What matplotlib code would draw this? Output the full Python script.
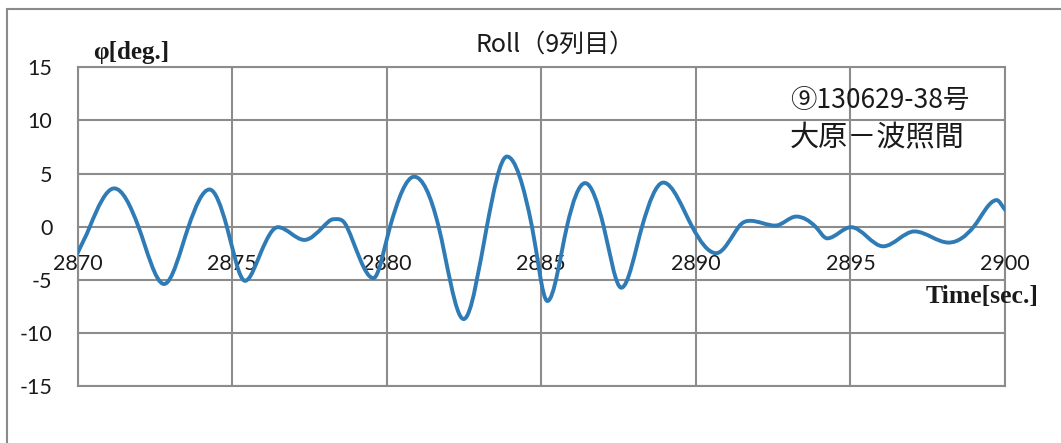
import numpy as np
import matplotlib
matplotlib.use("Agg")
import matplotlib.pyplot as plt
from matplotlib.path import Path
from matplotlib.patches import PathPatch, Rectangle

# roll angle readings (time [s], angle [deg])
t_sec = [2870.00, 2870.40, 2871.19, 2871.97, 2872.80, 2873.59, 2874.27, 2874.83,
         2875.42, 2875.95, 2876.48, 2877.34, 2877.95, 2878.28, 2878.71, 2879.57,
         2880.11, 2880.89, 2881.68, 2882.49, 2883.24, 2883.89, 2884.70, 2885.20,
         2885.83, 2886.42, 2887.02, 2887.59, 2888.26, 2888.95, 2889.88, 2890.66,
         2891.39, 2891.76, 2892.57, 2893.25, 2893.87, 2894.25, 2895.02, 2896.06,
         2897.07, 2898.18, 2898.99, 2899.73, 2900.00]
roll_deg = [-2.5, 0.0, 3.6, 0.0, -5.4, 0.0, 3.5, 0.0,
            -5.1, -2.3, -0.05, -1.25, 0.0, 0.7, 0.0, -4.85,
            0.0, 4.7, 0.0, -8.7, 0.0, 6.6, 0.0, -7.0,
            0.0, 4.1, 0.0, -5.75, 0.0, 4.15, 0.0, -2.5,
            0.0, 0.55, 0.1, 0.95, 0.0, -1.1, -0.05, -1.85,
            -0.45, -1.5, 0.0, 2.5, 1.6]

x_ticks = [2870, 2875, 2880, 2885, 2890, 2895, 2900]
y_ticks = [-15, -10, -5, 0, 5, 10, 15]

title = "Roll（9列目）"
note_lines = ["⑨130629-38号", "大原－波照間"]

GRID = "#8c8c8c"
LINE = "#2f7bb5"
num_font = ["Lato", "DejaVu Sans"]
jp_font = ["Noto Sans CJK JP", "DejaVu Sans"]


def smooth_path(xs, ys, k=1.4):
    # smoothed line: cubic Hermite pieces written as Bezier curves
    x = np.asarray(xs, float)
    y = np.asarray(ys, float)
    m = np.empty_like(y)
    m[1:-1] = k * (y[2:] - y[:-2]) / (x[2:] - x[:-2])
    m[0] = (y[1] - y[0]) / (x[1] - x[0])
    m[-1] = (y[-1] - y[-2]) / (x[-1] - x[-2])
    # zero slope at local extrema
    for i in range(1, len(y) - 1):
        if (y[i] - y[i - 1]) * (y[i + 1] - y[i]) <= 0:
            m[i] = 0.0
    verts = [(x[0], y[0])]
    codes = [Path.MOVETO]
    for i in range(len(x) - 1):
        h = x[i + 1] - x[i]
        verts += [(x[i] + h / 3, y[i] + m[i] * h / 3),
                  (x[i + 1] - h / 3, y[i + 1] - m[i + 1] * h / 3),
                  (x[i + 1], y[i + 1])]
        codes += [Path.CURVE4] * 3
    return Path(verts, codes)


fig = plt.figure(figsize=(10.61, 4.43), dpi=100)
fig.patch.set_facecolor("white")

# chart area border (runs off the right and bottom edges)
fig.patches.append(Rectangle((7 / 1061, -0.5), 2.0, 1.5 - 9 / 443,
                             transform=fig.transFigure, fill=False,
                             edgecolor="#8a8a8a", linewidth=1.5))

ax = fig.add_axes([77.5 / 1061, 1 - 386 / 443, 927.5 / 1061, 318.7 / 443])
ax.set_xlim(2870, 2900)
ax.set_ylim(-15, 15)
ax.set_xticks(x_ticks)
ax.set_yticks(y_ticks)
ax.set_xticklabels([])
ax.set_yticklabels([str(v) for v in y_ticks], fontfamily=num_font, fontsize=15.5,
                   color="#1a1a1a")
ax.tick_params(length=0, pad=18)
ax.grid(True, color=GRID, linewidth=1.5)
for s in ax.spines.values():
    s.set_color(GRID)
    s.set_linewidth(1.5)
ax.set_axisbelow(True)

# x labels sit under the zero line
for xt in x_ticks:
    ax.annotate(str(xt), (xt, 0), xytext=(0, -20), textcoords="offset points",
                ha="center", va="top", fontfamily=num_font, fontsize=15.5,
                color="#1a1a1a", annotation_clip=False)

ax.add_patch(PathPatch(smooth_path(t_sec, roll_deg), facecolor="none",
                       edgecolor=LINE, linewidth=2.8, capstyle="round",
                       joinstyle="round", zorder=3))

fig.text(555 / 1061, 1 - 45 / 443, title, ha="center", va="center",
         fontfamily=jp_font, fontsize=18, color="#1a1a1a")
fig.text(93 / 1061, 1 - 52 / 443, "φ[deg.]", ha="left", va="center",
         fontfamily="Liberation Serif", fontweight="bold", fontsize=18,
         color="#1a1a1a")
fig.text(1039 / 1061, 1 - 297 / 443, "Time[sec.]", ha="right", va="center",
         fontfamily="Liberation Serif", fontweight="bold", fontsize=18.5,
         color="#1a1a1a")
fig.text(790 / 1061, 1 - 100 / 443, note_lines[0], ha="left", va="center",
         fontfamily=jp_font, fontsize=19, color="#1a1a1a")
fig.text(790 / 1061, 1 - 138 / 443, note_lines[1], ha="left", va="center",
         fontfamily=jp_font, fontsize=21, color="#1a1a1a")

fig.savefig("out.png", dpi=100)
